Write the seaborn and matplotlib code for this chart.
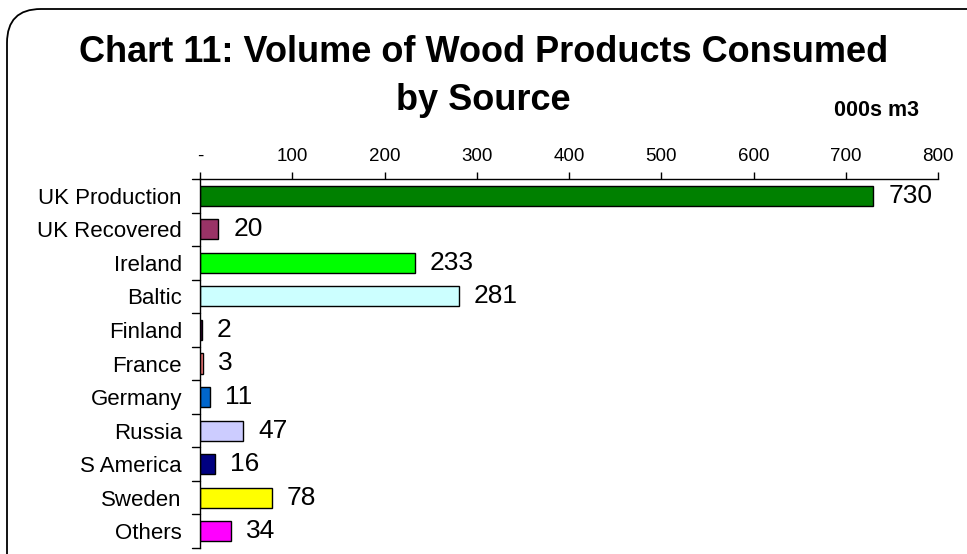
import matplotlib
matplotlib.use("Agg")
import matplotlib.pyplot as plt
from matplotlib.patches import FancyBboxPatch
import seaborn as sns
import pandas as pd

sources = ["UK Production", "UK Recovered", "Ireland", "Baltic", "Finland",
           "France", "Germany", "Russia", "S America", "Sweden", "Others"]
volumes = [730, 20, 233, 281, 2, 3, 11, 47, 16, 78, 34]
bar_colors = ["#008000", "#993366", "#00FF00", "#CCFFFF", "#400040",
              "#FF8080", "#0066CC", "#CCCCFF", "#000080", "#FFFF00", "#FF00FF"]
x_ticks = [0, 100, 200, 300, 400, 500, 600, 700, 800]
x_tick_labels = ["-", "100", "200", "300", "400", "500", "600", "700", "800"]

sns.set_theme(style="white")
plt.rcParams["font.family"] = ["Liberation Sans", "DejaVu Sans"]
plt.rcParams["text.color"] = "black"
plt.rcParams["xtick.color"] = "black"
plt.rcParams["ytick.color"] = "black"

df = pd.DataFrame({"source": sources, "volume": volumes})

fig = plt.figure(figsize=(9.67, 5.54), dpi=100)

# rounded chart-area border
frame = FancyBboxPatch((7 / 967, -0.2), 1.2, 1.2 - 9 / 554,
                       boxstyle="round,pad=0,rounding_size=0.035",
                       transform=fig.transFigure, facecolor="none",
                       edgecolor="black", linewidth=1.3,
                       mutation_aspect=967 / 554, zorder=-1)
fig.patches.append(frame)

ax = fig.add_axes([200 / 967, 1 - 548 / 554, 738 / 967, 369 / 554])
ax.set_facecolor("none")

sns.barplot(data=df, x="volume", y="source", hue="source", palette=bar_colors,
            legend=False, orient="h", width=0.6, edgecolor="black",
            linewidth=1.0, ax=ax, saturation=1)

ax.set_xlim(0, 800)
ax.set_ylim(len(sources) - 0.5, -0.5)
ax.set_xlabel("")
ax.set_ylabel("")

# value axis on top
ax.xaxis.tick_top()
ax.set_xticks(x_ticks)
ax.set_xticklabels(x_tick_labels, fontsize=13.5)
ax.tick_params(axis="x", direction="out", length=5, width=1, color="black",
               pad=5, top=True, bottom=False)

# category ticks sit between bars
ax.set_yticks(range(len(sources)))
ax.set_yticklabels(sources, fontsize=16)
ax.tick_params(axis="y", length=0, pad=13)
for b in [i - 0.5 for i in range(len(sources) + 1)]:
    ax.plot([-0.011, 0], [b, b], transform=ax.get_yaxis_transform(),
            color="black", linewidth=1, clip_on=False)

for side in ["right", "bottom"]:
    ax.spines[side].set_visible(False)
for side in ["left", "top"]:
    ax.spines[side].set_color("black")
    ax.spines[side].set_linewidth(1)

for i, v in enumerate(volumes):
    ax.text(v + 16, i, f"{v}", va="center", ha="left", fontsize=19,
            color="black")

fig.text(0.5, 1 - 53 / 554, "Chart 11: Volume of Wood Products Consumed",
         ha="center", va="center", fontsize=26, fontweight="bold")
fig.text(0.5, 1 - 100 / 554, "by Source", ha="center", va="center",
         fontsize=26, fontweight="bold")
fig.text(876 / 967, 1 - 111 / 554, "000s m3", ha="center", va="center",
         fontsize=15.5, fontweight="bold")

fig.savefig("out.png", dpi=100)
